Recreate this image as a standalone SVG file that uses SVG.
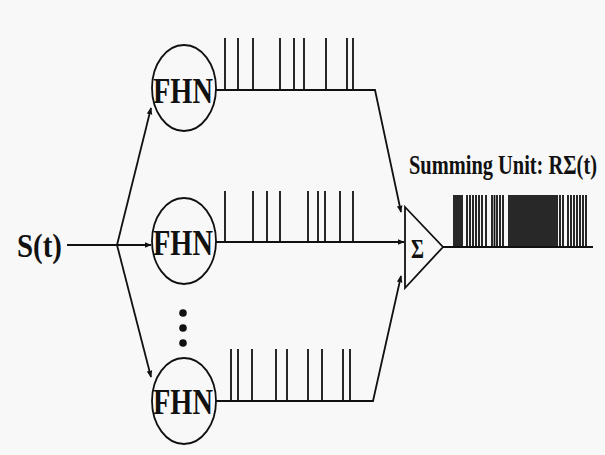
<svg xmlns="http://www.w3.org/2000/svg" width="605" height="455" viewBox="0 0 605 455">
<defs>
<marker id="ah" viewBox="0 0 10 10" refX="9" refY="5" markerWidth="7" markerHeight="7" orient="auto" markerUnits="userSpaceOnUse"><path d="M0,1 L10,5 L0,9 z" fill="#111"/></marker>
<style>
.ln{stroke:#111;stroke-width:1.8;fill:none}
.sp{stroke:#111;stroke-width:1.8}
.node{fill:none;stroke:#111;stroke-width:1.8}
.lbl{font-family:"Liberation Serif",serif;font-weight:bold;fill:#111}
</style>
</defs>
<rect width="605" height="455" fill="#f8f8f8"/>
<g id="connectors">
<path class="ln" d="M67,245 H151" marker-end="url(#ah)"/>
<path class="ln" d="M117,245 L151,108" marker-end="url(#ah)"/>
<path class="ln" d="M117,245 L151,377" marker-end="url(#ah)"/>
<path class="ln" d="M216,90 H375 L401,212" marker-end="url(#ah)"/>
<path class="ln" d="M216,242 H404" marker-end="url(#ah)"/>
<path class="ln" d="M216,401 H373 L401,276" marker-end="url(#ah)"/>
<path class="ln" d="M443,247 H593"/>
</g>
<g id="input"><text class="lbl" x="17" y="257" font-size="34" textLength="45" lengthAdjust="spacingAndGlyphs">S(t)</text></g>
<g id="fhn1"><ellipse class="node" cx="184" cy="88" rx="32" ry="43"/><text class="lbl" x="153" y="103" font-size="36" textLength="60" lengthAdjust="spacingAndGlyphs">FHN</text></g>
<g id="fhn2"><ellipse class="node" cx="184" cy="241" rx="32" ry="43"/><text class="lbl" x="153" y="255" font-size="36" textLength="60" lengthAdjust="spacingAndGlyphs">FHN</text></g>
<g id="fhn3"><ellipse class="node" cx="184" cy="401" rx="32" ry="43"/><text class="lbl" x="153" y="414" font-size="36" textLength="60" lengthAdjust="spacingAndGlyphs">FHN</text></g>
<g id="dots" fill="#111"><circle cx="183" cy="313" r="3.8"/><circle cx="183" cy="328" r="3.8"/><circle cx="183" cy="343" r="3.8"/></g>
<g id="spikes1">
<path class="sp" d="M225,38V90M238,38V90M253,38V90M280,38V90M294,38V90M304,38V90M326,38V90M347,38V90M353,38V90"/>
</g>
<g id="spikes2">
<path class="sp" d="M225,191V242M253,191V242M267,191V242M280,191V242M308,191V242M318,191V242M325,191V242M340,191V242M353,191V242"/>
</g>
<g id="spikes3">
<path class="sp" d="M231,349V401M238,349V401M252,349V401M276,349V401M287,349V401M308,349V401M322,349V401M343,349V401M350,349V401"/>
</g>
<g id="sum">
<path class="node" d="M405,207 L443,247 L405,288 Z"/>
<text class="lbl" x="411" y="258" font-size="28" textLength="13" lengthAdjust="spacingAndGlyphs">Σ</text>
</g>
<g id="output">
<path class="sp" stroke-width="1" d="M454,195V247M456,195V247M458,195V247M460,195V247M462,195V247M467,195V247M470,195V247M473,195V247M476,195V247M479,195V247M482,195V247M486,195V247M492,195V247M494.5,195V247M497,195V247M500,195V247M503,195V247M509,195V247M511,195V247M513,195V247M515,195V247M517,195V247M519,195V247M521,195V247M523,195V247M525,195V247M527,195V247M529,195V247M531,195V247M533,195V247M535,195V247M537,195V247M539,195V247M541,195V247M543,195V247M545,195V247M547,195V247M549,195V247M551,195V247M553,195V247M555,195V247M557,195V247M560,195V247M563,195V247M568,195V247M571,195V247M574,195V247M577,195V247M580,195V247M583,195V247M586,195V247"/>
<text class="lbl" transform="translate(409,174) scale(1,1.3)" x="0" y="0" font-size="20.5" textLength="188" lengthAdjust="spacingAndGlyphs">Summing Unit: RΣ(t)</text>
</g>
</svg>
